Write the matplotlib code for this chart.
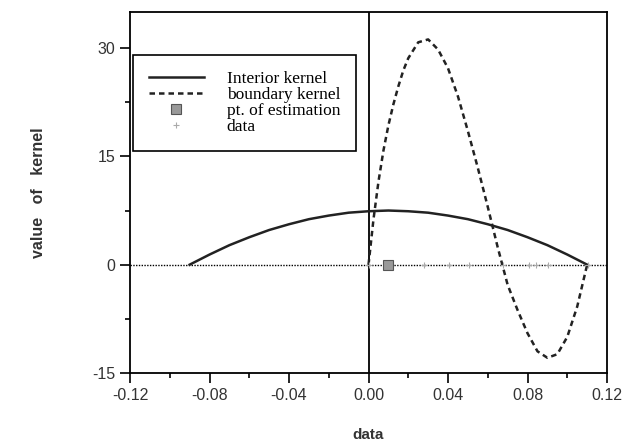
import matplotlib
matplotlib.use("Agg")
import matplotlib.pyplot as plt
from matplotlib.ticker import MultipleLocator

# interior kernel
interior_x = [-0.09, -0.08, -0.07, -0.06, -0.05, -0.04, -0.03, -0.02, -0.01, 0.00,
              0.01, 0.02, 0.03, 0.04, 0.05, 0.06, 0.07, 0.08, 0.09, 0.10, 0.11]
interior_y = [0.0, 1.4, 2.7, 3.8, 4.8, 5.6, 6.3, 6.8, 7.2, 7.4,
              7.5, 7.4, 7.2, 6.8, 6.3, 5.6, 4.8, 3.8, 2.7, 1.4, 0.0]

# boundary kernel
boundary_x = [0.0, 0.0025, 0.005, 0.0075, 0.01, 0.0125, 0.015, 0.0175, 0.02, 0.025,
              0.03, 0.035, 0.04, 0.045, 0.05, 0.055, 0.06, 0.065, 0.07, 0.075,
              0.08, 0.085, 0.09, 0.095, 0.10, 0.105, 0.11]
boundary_y = [0.0, 6.3, 11.5, 15.8, 19.3, 22.2, 24.7, 26.9, 28.6, 30.8,
              31.2, 29.8, 27.2, 23.3, 18.5, 13.4, 8.0, 2.4, -2.8, -6.3,
              -9.5, -12.0, -12.9, -12.4, -10.0, -5.8, 0.0]

est_x = [0.01]
est_y = [0.0]

data_x = [0.0, 0.028, 0.0405, 0.0505, 0.0676, 0.0807, 0.0842, 0.0902, 0.1103]
data_y = [0.0] * len(data_x)

xtick_labels = ["-0.12", "-0.08", "-0.04", "0.00", "0.04", "0.08", "0.12"]

fig = plt.figure(figsize=(6.26, 4.44), dpi=100)
ax = fig.add_axes([0.2077, 0.160, 0.762, 0.813])

ax.axhline(0, color="black", lw=1.0, ls=(0, (1, 1)), zorder=1)
ax.axvline(0, color="black", lw=1.3, zorder=1)

ax.plot(interior_x, interior_y, color="#222222", lw=1.8, label="Interior kernel")
ax.plot(boundary_x, boundary_y, color="#222222", lw=1.8, ls=(0, (2.2, 1.6)),
        label="boundary kernel")
ax.plot(est_x, est_y, ls="none", marker="s", ms=7, mfc="#999999", mec="#555555",
        mew=0.8, label="pt. of estimation")
ax.plot(data_x, data_y, ls="none", marker="+", ms=4, mew=0.8, color="#aaaaaa",
        label="data")

ax.set_xlim(-0.12, 0.12)
ax.set_ylim(-15, 35)
ax.xaxis.set_minor_locator(MultipleLocator(0.02))
ax.yaxis.set_minor_locator(MultipleLocator(7.5))
ax.set_xticks([-0.12, -0.08, -0.04, 0.0, 0.04, 0.08, 0.12])
ax.set_xticklabels(xtick_labels)
ax.set_yticks([-15, 0, 15, 30])
ax.set_yticklabels(["-15", "0", "15", "30"])

ax.tick_params(which="major", direction="out", length=7, width=1.2,
               labelsize=11.5, labelcolor="#333333")
ax.tick_params(which="minor", direction="out", length=3.5, width=1.2)
for lab in ax.get_xticklabels() + ax.get_yticklabels():
    lab.set_family("Liberation Sans")
for s in ax.spines.values():
    s.set_linewidth(1.3)

ax.set_xlabel("data", fontsize=11, fontweight="bold", family="Liberation Sans",
              color="#333333", labelpad=18)
ax.set_ylabel("value   of   kernel", fontsize=11.5, fontweight="bold",
              family="Liberation Sans", color="#333333", labelpad=33)

leg = ax.legend(loc="upper left", bbox_to_anchor=(0.006, 0.881), borderaxespad=0,
                fancybox=False, edgecolor="black", framealpha=1,
                prop={"family": "Liberation Serif", "size": 12.5},
                handlelength=3.2, handletextpad=1.3, labelspacing=0.0,
                borderpad=0.9)
leg.get_frame().set_linewidth(1.2)

fig.savefig("out.png", dpi=100)
